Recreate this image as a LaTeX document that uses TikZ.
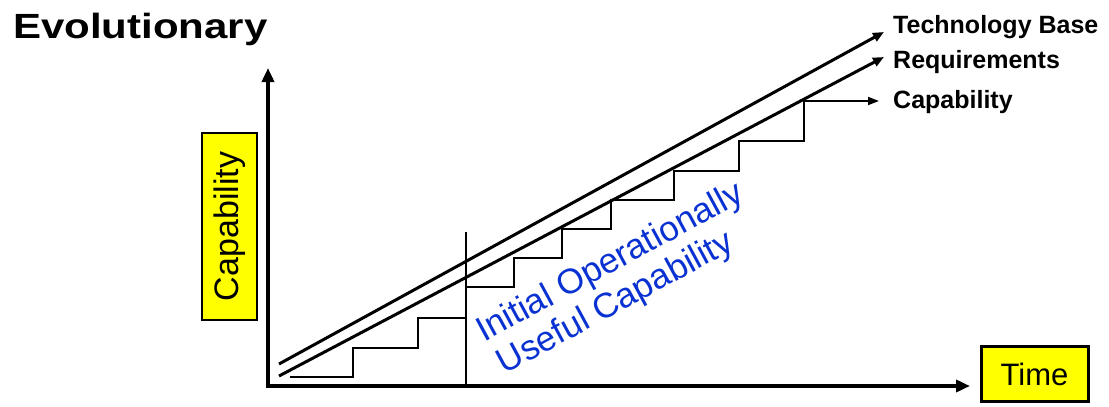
\documentclass[tikz,border=0pt]{standalone}
\usepackage{fontspec}
\setmainfont{Liberation Sans}
\usetikzlibrary{arrows.meta}
\definecolor{boxyellow}{RGB}{255,255,0}
\definecolor{noteblue}{RGB}{10,50,210}

\tikzset{
  axisline/.style={line width=3.6pt, -{Triangle[length=14pt,width=12pt]}},
  trendline/.style={line width=3pt, -{Triangle[length=11pt,width=9pt]}},
  stairline/.style={line width=2pt, line join=miter},
  stairarrow/.style={line width=1.8pt, -{Triangle[length=11pt,width=8pt]}},
  marker/.style={line width=1.3pt},
  labelbox/.style={draw, fill=boxyellow, inner sep=0pt},
  trendlabel/.style={anchor=base west, inner sep=0pt,
    font=\fontsize{25}{28}\selectfont\bfseries},
  axislabel/.style={font=\fontsize{32}{36}\selectfont}
}

\begin{document}
\begin{tikzpicture}[x=1pt,y=-1pt]
\useasboundingbox (0,0) rectangle (1109,407);

% title
\node[anchor=base west, inner sep=0pt] (title) at (13,38)
  {\scalebox{1.2}[1]{\fontsize{35}{40}\selectfont\bfseries Evolutionary}};

% axes
\coordinate (origin) at (268,386);
\coordinate (ytip) at (268,68);
\coordinate (xtip) at (970,386);
\draw[axisline] ([yshift=-1.8pt]origin) -- (ytip);
\draw[axisline] ([xshift=-1.8pt]origin) -- (xtip);

% axis labels
\node[labelbox, line width=1.2pt, minimum width=55pt, minimum height=187pt]
  (ybox) at (229.5,226.5) {};
\node[axislabel, rotate=90, font=\fontsize{34}{38}\selectfont] (ylab) at (ybox.center) {Capability};
\node[labelbox, line width=3pt, minimum width=107pt, minimum height=55pt]
  (xbox) at (1034.5,374) {};
\node[axislabel, font=\fontsize{31}{36}\selectfont] (xlab) at (xbox.center) {Time};

% trend lines
\coordinate (techA) at (279,364);
\coordinate (techB) at (884,32);
\coordinate (reqA) at (279,376);
\coordinate (reqB) at (884,57);
\draw[trendline] (techA) -- (techB);
\draw[trendline] (reqA) -- (reqB);

% capability staircase
\coordinate (capA) at (290,377);
\coordinate (capTop) at (804,101);
\coordinate (capB) at (879,101);
\draw[stairline] (capA) -| (353,348) -| (418,318) -| (466,287) -| (514,258)
  -| (562,229) -| (611,200) -| (674,171) -| (739,141) -| (capTop);
\draw[stairarrow] (capTop) -- (capB);

% initial operational capability marker
\coordinate (iocTop) at (466,232);
\coordinate (iocBot) at (466,386);
\draw[marker] (iocTop) -- (iocBot);

% trend labels
\node[trendlabel] (techlab) at (893,33) {Technology Base};
\node[trendlabel] (reqlab) at (893,68) {Requirements};
\node[trendlabel] (caplab) at (893,108) {Capability};

% annotation (anchored at the baseline of its last line)
\node[anchor=base west, inner sep=0pt, rotate=28.5, align=left,
  text=noteblue, font=\fontsize{35}{38}\selectfont] (ioc) at (502,376)
  {Initial Operationally\\\hspace{3pt}Useful Capability};
\end{tikzpicture}
\end{document}
